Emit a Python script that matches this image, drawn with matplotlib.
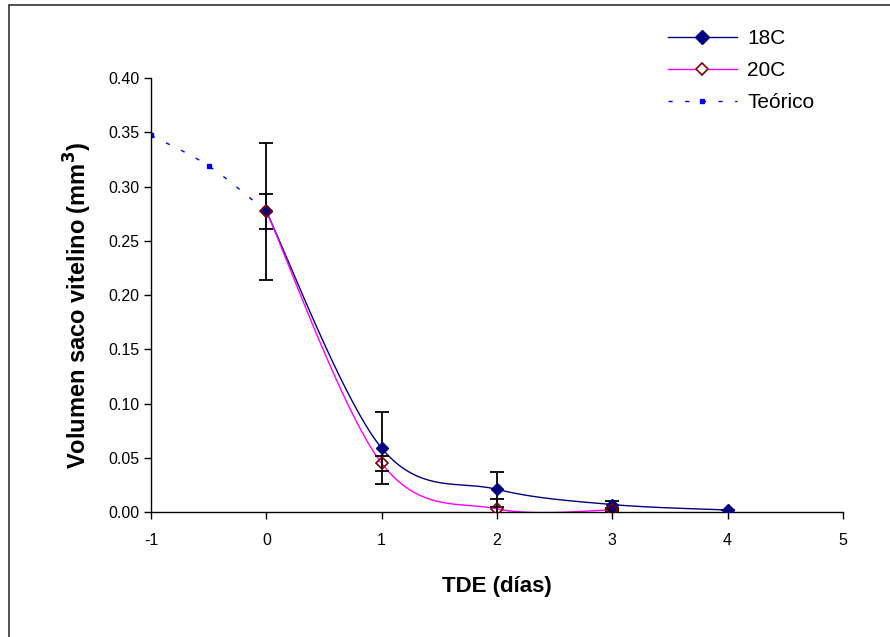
import numpy as np
import matplotlib.pyplot as plt
from matplotlib.patches import Rectangle

plt.rcParams['font.family'] = ['Liberation Sans', 'DejaVu Sans']
plt.rcParams['axes.unicode_minus'] = False

# data
dias = [0, 1, 2, 3, 4]
v18 = [0.277, 0.059, 0.021, 0.007, 0.002]
e18 = [0.063, 0.033, 0.016, 0.003, 0.0]
dias20 = [0, 1, 2, 3]
v20 = [0.277, 0.045, 0.003, 0.002]
e20 = [0.016, 0.007, 0.009, 0.001]
dias_teo = [-1, -0.5, 0]
v_teo = [0.347, 0.319, 0.277]


def excel_smooth(x, y, n=40):
    # Excel-like smoothed line: Catmull-Rom style bezier between points
    x = np.asarray(x, float)
    y = np.asarray(y, float)
    px = np.concatenate([[x[0]], x, [x[-1]]])
    py = np.concatenate([[y[0]], y, [y[-1]]])
    t = np.linspace(0, 1, n)
    xs, ys = [], []
    for i in range(1, len(px) - 2):
        p0 = np.array([px[i], py[i]])
        p3 = np.array([px[i + 1], py[i + 1]])
        c1 = p0 + (np.array([px[i + 1], py[i + 1]]) - np.array([px[i - 1], py[i - 1]])) / 6
        c2 = p3 - (np.array([px[i + 2], py[i + 2]]) - np.array([px[i], py[i]])) / 6
        b = ((1 - t) ** 3)[:, None] * p0 + (3 * (1 - t) ** 2 * t)[:, None] * c1 \
            + (3 * (1 - t) * t ** 2)[:, None] * c2 + (t ** 3)[:, None] * p3
        xs.append(b[:, 0])
        ys.append(b[:, 1])
    return np.concatenate(xs), np.concatenate(ys)


fig = plt.figure(figsize=(8.9, 6.37), dpi=100)
ax = fig.add_axes([0.1697, 0.196, 0.7773, 0.6816])

navy = '#000080'
mag = '#FF00FF'

sx, sy = excel_smooth(dias_teo, v_teo)
ax.plot(sx, sy, color='#0000FF', lw=1, dashes=(3, 9))
ax.plot(dias_teo, v_teo, ls='none', marker='s', ms=2.5, color='#0000FF')

sx, sy = excel_smooth(dias, v18)
ax.plot(sx, sy, color=navy, lw=1)
sx, sy = excel_smooth(dias20, v20)
ax.plot(sx, sy, color=mag, lw=1)

ax.errorbar(dias, v18, yerr=e18, fmt='none', ecolor='black', elinewidth=1.3, capsize=5, capthick=1.3)
ax.errorbar(dias20, v20, yerr=e20, fmt='none', ecolor='black', elinewidth=1.3, capsize=5, capthick=1.3)

ax.plot(dias, v18, ls='none', marker='D', ms=6.5, color=navy, zorder=5)
ax.plot(dias20, v20, ls='none', marker='D', ms=6.5, mfc='none', mec='#800000', mew=1.2, zorder=6)

# legend handles
h1, = ax.plot([], [], color=navy, marker='D', ms=7, lw=1)
h2, = ax.plot([], [], color=mag, marker='D', ms=6, mfc='white', mec='#800000', mew=1.2, lw=1)
h3, = ax.plot([], [], color='#0000FF', lw=1, dashes=(3, 9), marker='s', ms=2.5)
ax.legend([h1, h2, h3], ['18C', '20C', 'Teórico'], loc='upper left',
          bbox_to_anchor=(0.72, 1.155), frameon=False, fontsize=15,
          handlelength=3.3, handletextpad=0.5, labelspacing=0.62)

ax.set_xlim(-1, 5)
ax.set_ylim(0, 0.40)
ax.set_xticks(range(-1, 6))
ax.set_yticks(np.arange(0, 0.401, 0.05))
ax.set_yticklabels(['%.2f' % v for v in np.arange(0, 0.401, 0.05)])
ax.tick_params(labelsize=11.5, length=5, width=1, direction='out')
ax.tick_params(axis='x', pad=10)
for s in ['top', 'right']:
    ax.spines[s].set_visible(False)
for s in ['left', 'bottom']:
    ax.spines[s].set_linewidth(1)

ax.set_xlabel('TDE (días)', fontsize=16, fontweight='bold', labelpad=20)
ax.set_ylabel('Volumen saco vitelino (mm$^\\mathbf{3}$)', fontsize=17, fontweight='bold')
ax.yaxis.set_label_coords(-0.083, 0.475)

fig.patches.append(Rectangle((9 / 890, -0.05), 1.2, 1 - 5 / 637 + 0.05, transform=fig.transFigure,
                             fill=False, edgecolor='#333333', lw=1.2))

fig.savefig('out.png', dpi=100)
